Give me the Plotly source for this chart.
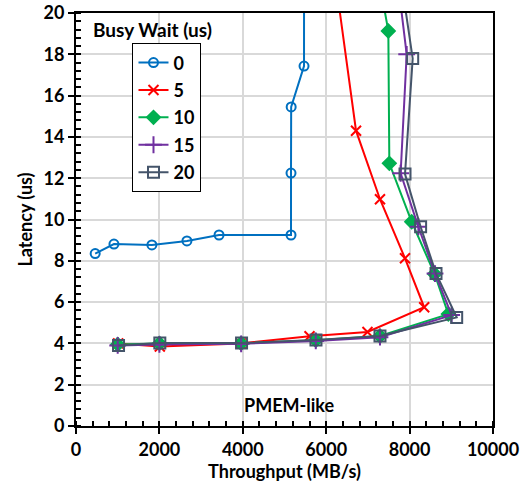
import plotly.graph_objects as go

# Throughput (MB/s) and latency (us) for each busy-wait setting
bw0_x = [460, 910, 1820, 2660, 3430, 5156, 5156, 5160, 5468, 5470]
bw0_y = [8.35, 8.81, 8.77, 8.96, 9.25, 9.25, 12.25, 15.45, 17.43, 30.0]

bw5_x = [1010, 2010, 3950, 5600, 6990, 8350, 7890, 7290, 6715, 6060]
bw5_y = [4.0, 3.85, 4.0, 4.35, 4.55, 5.75, 8.12, 10.98, 14.3, 24.0]

bw10_x = [1000, 2000, 3960, 5750, 7290, 8929, 8600, 8050, 7514, 7490, 7054]
bw10_y = [3.95, 4.0, 4.0, 4.15, 4.36, 5.42, 7.36, 9.89, 12.72, 19.13, 24.0]

bw15_x = [1000, 2000, 3960, 5750, 7290, 9008, 8610, 8210, 7785, 7930, 7570]
bw15_y = [3.9, 3.95, 3.98, 4.12, 4.3, 5.37, 7.38, 9.65, 12.24, 18.0, 24.0]

bw20_x = [1020, 2010, 3970, 5755, 7290, 9129, 8633, 8264, 7890, 8074, 7621]
bw20_y = [3.9, 4.02, 4.02, 4.17, 4.36, 5.26, 7.39, 9.65, 12.2, 17.8, 24.0]

series_names = ["0", "5", "10", "15", "20"]
colors = ["#0070C0", "#FF0000", "#00B050", "#7030A0", "#44546A"]
symbols = ["circle-open", "x-thin-open", "diamond", "cross-thin-open", "square-open"]
sizes = [9, 10, 10, 12, 11]
xs = [bw0_x, bw5_x, bw10_x, bw15_x, bw20_x]
ys = [bw0_y, bw5_y, bw10_y, bw15_y, bw20_y]

FONT = "Lato"

fig = go.Figure()
for name, c, s, sz, x, y in zip(series_names, colors, symbols, sizes, xs, ys):
    fig.add_trace(go.Scatter(
        x=x, y=y, name=name, mode="lines+markers", legendgroup=name,
        line=dict(color=c, width=2),
        marker=dict(symbol=s, size=sz, color=c, line=dict(color=c, width=2)),
        cliponaxis=True,
    ))

axis_common = dict(
    showline=True, linecolor="black", linewidth=2, mirror=True,
    showgrid=True, gridcolor="#D9D9D9", gridwidth=1.5,
    zeroline=False, automargin=False,
    ticks="outside", ticklen=6, tickcolor="black", tickwidth=1.5,
    tickfont=dict(family=FONT, size=18, color="black", weight="bold"),
)

fig.update_xaxes(
    range=[0, 10000], dtick=2000, tick0=0, tickformat="d",
    title=dict(text="<b>Throughput (MB/s)</b>", font=dict(family=FONT, size=18, color="black"), standoff=6),
    minor=dict(dtick=400, ticks="inside", ticklen=5, tickcolor="black", showgrid=False),
    **axis_common,
)
fig.update_yaxes(
    range=[0, 20], dtick=2, tick0=0,
    title=dict(text="<b>Latency (us)</b>", font=dict(family=FONT, size=18, color="black"), standoff=6),
    minor=dict(dtick=0.4, ticks="inside", ticklen=5, tickcolor="black", showgrid=False),
    **axis_common,
)

fig.add_annotation(
    text="<b>Busy Wait (us)</b>", xref="paper", yref="paper",
    x=0.035, y=0.96, xanchor="left", yanchor="middle", showarrow=False,
    font=dict(family=FONT, size=19, color="black"),
)
fig.add_annotation(
    text="<b>PMEM-like</b>", xref="paper", yref="paper",
    x=0.51, y=0.05, xanchor="center", yanchor="middle", showarrow=False,
    font=dict(family=FONT, size=18, color="black"),
)

fig.update_layout(
    width=532, height=486,
    margin=dict(l=76, r=39, t=13, b=60),
    paper_bgcolor="white", plot_bgcolor="white",
    showlegend=True,
    legend=dict(
        x=0.135, y=0.927, xanchor="left", yanchor="top",
        bordercolor="black", borderwidth=1.2, bgcolor="white",
        font=dict(family=FONT, size=18, color="black", weight="bold"),
        tracegroupgap=1, itemwidth=30,
    ),
)

fig.write_html("out.html", config={"displayModeBar": False},
               post_script="document.body.style.margin='0';")
